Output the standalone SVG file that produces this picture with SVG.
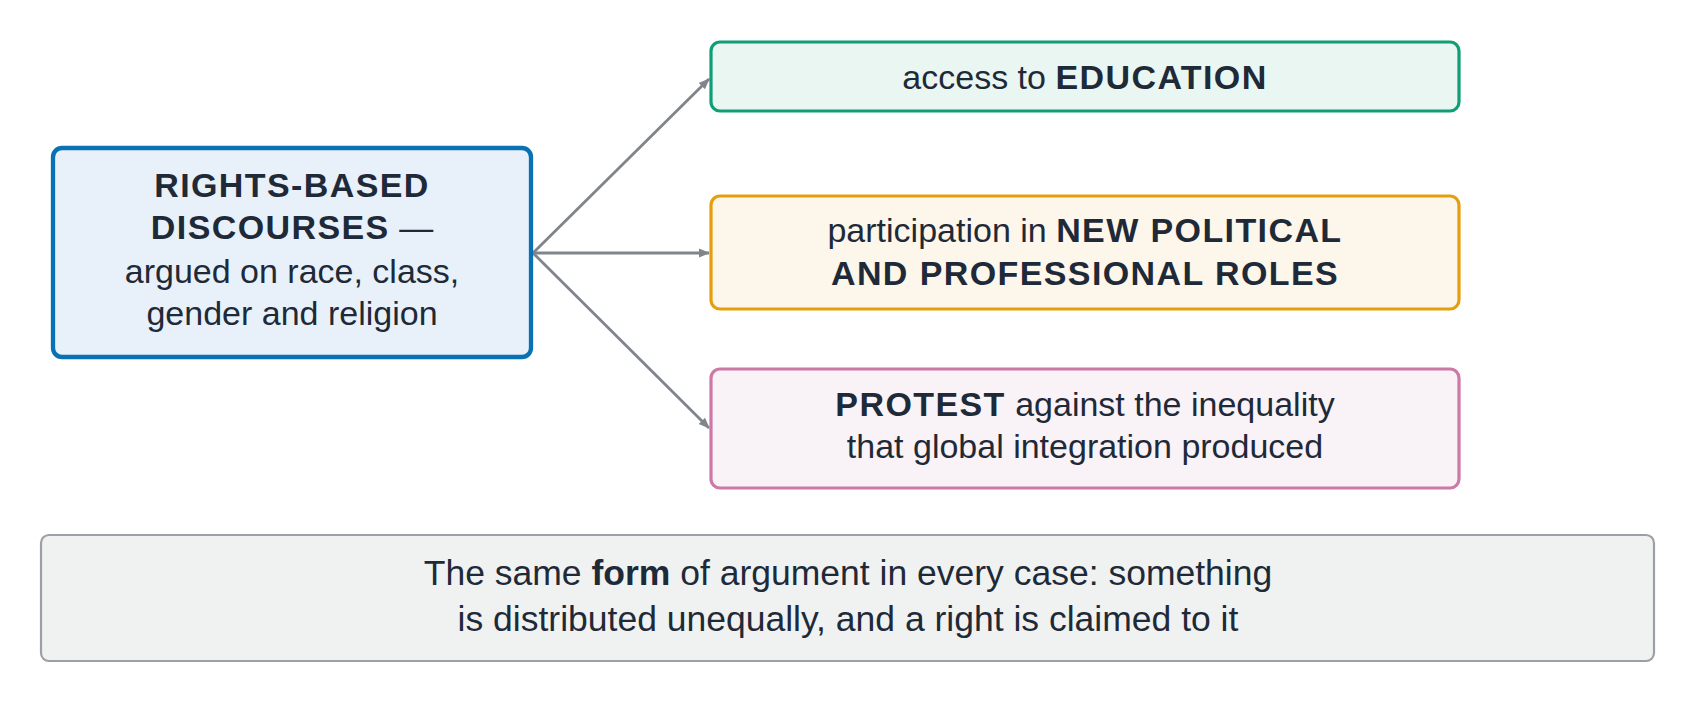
<svg xmlns="http://www.w3.org/2000/svg" width="1696" height="704" viewBox="0 0 1696 704">
<defs>
<marker id="ah" viewBox="0 0 10 10" refX="9" refY="5" markerWidth="4" markerHeight="4" orient="auto" markerUnits="strokeWidth">
<path d="M0,1 L10,5 L0,9 z" fill="#80858c"/>
</marker>
<style>
text{font-family:"Liberation Sans",Arial,sans-serif;fill:#1f2a38;text-anchor:middle;font-size:34px}
.b{font-weight:bold;letter-spacing:1.4px}
.f{font-size:35.5px}
.conn line{stroke:#80858c;stroke-width:2.8;marker-end:url(#ah)}
</style>
</defs>
<rect width="1696" height="704" fill="#ffffff"/>
<g class="conn" id="connectors">
<line x1="533" y1="253" x2="709" y2="79"/>
<line x1="533" y1="253" x2="709" y2="253"/>
<line x1="533" y1="253" x2="709" y2="428"/>
</g>
<g id="rights">
<rect x="53" y="148" width="478" height="209" rx="9" fill="#e8f1fa" stroke="#0a72b4" stroke-width="4.3"/>
<text x="292" y="197" class="b">RIGHTS-BASED</text>
<text x="292" y="239"><tspan class="b">DISCOURSES</tspan> —</text>
<text x="292" y="283">argued on race, class,</text>
<text x="292" y="325">gender and religion</text>
</g>
<g id="education">
<rect x="711" y="42" width="748" height="69" rx="9" fill="#eaf6f2" stroke="#0f9e76" stroke-width="3.2"/>
<text x="1085" y="89">access to <tspan class="b">EDUCATION</tspan></text>
</g>
<g id="roles">
<rect x="711" y="196" width="748" height="113" rx="9" fill="#fdf6ea" stroke="#e59f0c" stroke-width="3.2"/>
<text x="1085" y="242">participation in <tspan class="b">NEW POLITICAL</tspan></text>
<text x="1085" y="285" class="b">AND PROFESSIONAL ROLES</text>
</g>
<g id="protest">
<rect x="711" y="369" width="748" height="119" rx="9" fill="#f9f2f6" stroke="#cc79a7" stroke-width="3.2"/>
<text x="1085" y="416"><tspan class="b">PROTEST</tspan> against the inequality</text>
<text x="1085" y="458">that global integration produced</text>
</g>
<g id="footer">
<rect x="41" y="535" width="1613" height="126" rx="8" fill="#f0f2f2" stroke="#9ca0a6" stroke-width="2.2"/>
<text x="848" y="585" class="f">The same <tspan style="font-weight:bold">form</tspan> of argument in every case: something</text>
<text x="848" y="631" class="f">is distributed unequally, and a right is claimed to it</text>
</g>
</svg>
